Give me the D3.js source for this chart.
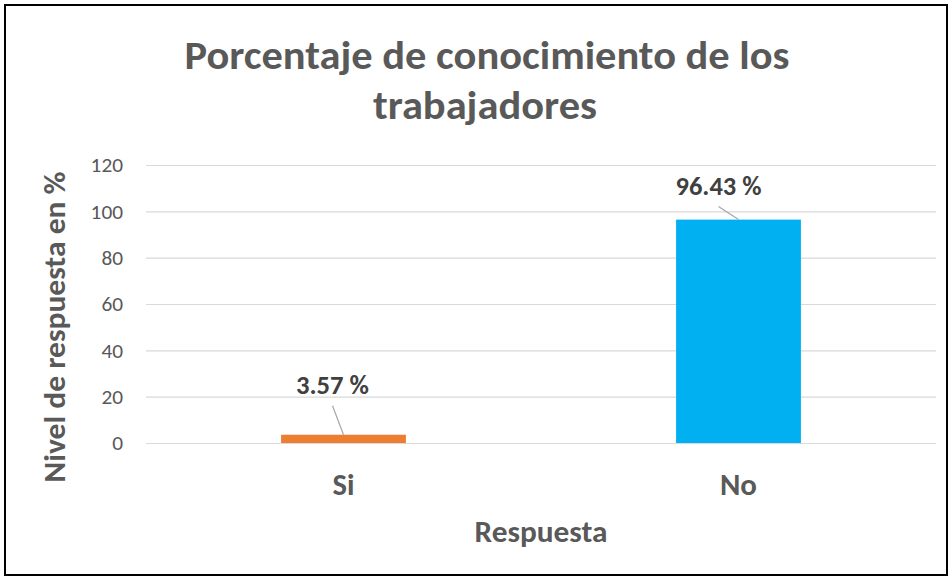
<!DOCTYPE html>
<html>
<head>
<meta charset="utf-8">
<script src="https://cdn.jsdelivr.net/npm/d3@7"></script>
<style>
  body { margin: 0; background: #fff; }
  text { font-family: Carlito, Calibri, "Open Sans", sans-serif; }
  .grid line { stroke: #d9d9d9; stroke-width: 1.2px; }
  .grid path { display: none; }
  .grid text { fill: #595959; font-size: 21.3px; }
</style>
</head>
<body>
<div id="chart"></div>
<script>
// data
var categories = ['Si', 'No'];
var values = [3.57, 96.43];
var labels = ['3.57 %', '96.43 %'];
var yTicks = [0, 20, 40, 60, 80, 100, 120];
var colors = ['#ED7D31', '#00B0F0'];

var width = 952, height = 580;
var plot = {left: 146, right: 936, top: 165, bottom: 443};

var svg = d3.select('#chart').append('svg')
    .attr('width', width)
    .attr('height', height);

svg.append('rect')
    .attr('x', 5).attr('y', 5)
    .attr('width', 942).attr('height', 570)
    .attr('fill', '#fff')
    .attr('stroke', '#000')
    .attr('stroke-width', 2);

// squeeze/stretch text to the measured width of the reference
function fit(sel, w) {
  sel.attr('textLength', w).attr('lengthAdjust', 'spacingAndGlyphs');
}

var x = d3.scaleBand()
    .domain(categories)
    .range([plot.left, plot.right])
    .paddingInner(0.684)
    .paddingOuter(0.342);

var y = d3.scaleLinear()
    .domain([0, 120])
    .range([plot.bottom, plot.top]);

var yAxis = d3.axisLeft(y)
    .tickValues(yTicks)
    .tickSize(-(plot.right - plot.left))
    .tickPadding(23);

svg.append('g')
    .attr('class', 'grid')
    .attr('transform', 'translate(' + plot.left + ',0)')
    .call(yAxis);

// title
var title = ['Porcentaje de conocimiento de los', 'trabajadores'];
var titleW = [605, 224];
svg.selectAll('text.title')
    .data(title)
    .enter()
    .append('text')
    .attr('class', 'title')
    .attr('x', function(d, i) { return i == 0 ? 487 : 485; })
    .attr('y', function(d, i) { return 69 + i * 50; })
    .attr('text-anchor', 'middle')
    .style('font-size', '40px')
    .style('font-weight', 'bold')
    .style('fill', '#595959')
    .text(function(d) { return d; })
    .each(function(d, i) { fit(d3.select(this), titleW[i]); });

// bars
svg.selectAll('rect.bar')
    .data(values)
    .enter()
    .append('rect')
    .attr('class', 'bar')
    .attr('x', function(d, i) { return x(categories[i]); })
    .attr('width', x.bandwidth())
    .attr('y', function(d) { return y(d); })
    .attr('height', function(d) { return y(0) - y(d); })
    .attr('fill', function(d, i) { return colors[i]; });

// data labels, moved away from the bars with leader lines
var labelDx = [-11, -20], labelDy = [-41, -25], labelW = [73, 86];

svg.selectAll('line.leader')
    .data(values)
    .enter()
    .append('line')
    .attr('class', 'leader')
    .attr('x1', function(d, i) { return x(categories[i]) + x.bandwidth() / 2 + labelDx[i]; })
    .attr('y1', function(d, i) { return y(d) + labelDy[i] + 12; })
    .attr('x2', function(d, i) { return x(categories[i]) + x.bandwidth() / 2; })
    .attr('y2', function(d) { return y(d); })
    .style('stroke', '#a6a6a6')
    .style('stroke-width', 1.2);

svg.selectAll('text.label')
    .data(values)
    .enter()
    .append('text')
    .attr('class', 'label')
    .attr('x', function(d, i) { return x(categories[i]) + x.bandwidth() / 2 + labelDx[i]; })
    .attr('y', function(d, i) { return y(d) + labelDy[i]; })
    .attr('text-anchor', 'middle')
    .style('font-size', '26.7px')
    .style('font-weight', 'bold')
    .style('fill', '#404040')
    .text(function(d, i) { return labels[i]; })
    .each(function(d, i) { fit(d3.select(this), labelW[i]); });

// category labels
var catW = [22, 37];
svg.selectAll('text.cat')
    .data(categories)
    .enter()
    .append('text')
    .attr('class', 'cat')
    .attr('x', function(d) { return x(d) + x.bandwidth() / 2; })
    .attr('y', 495)
    .attr('text-anchor', 'middle')
    .style('font-size', '29.3px')
    .style('font-weight', 'bold')
    .style('fill', '#595959')
    .text(function(d) { return d; })
    .each(function(d, i) { fit(d3.select(this), catW[i]); });

// axis titles
svg.append('text')
    .attr('x', (plot.left + plot.right) / 2)
    .attr('y', 542)
    .attr('text-anchor', 'middle')
    .style('font-size', '30px')
    .style('font-weight', 'bold')
    .style('fill', '#595959')
    .text('Respuesta')
    .call(fit, 133);

svg.append('text')
    .attr('transform', 'translate(65,327) rotate(-90)')
    .attr('text-anchor', 'middle')
    .style('font-size', '30px')
    .style('font-weight', 'bold')
    .style('fill', '#595959')
    .text('Nivel de respuesta en %')
    .call(fit, 311);
</script>
</body>
</html>
